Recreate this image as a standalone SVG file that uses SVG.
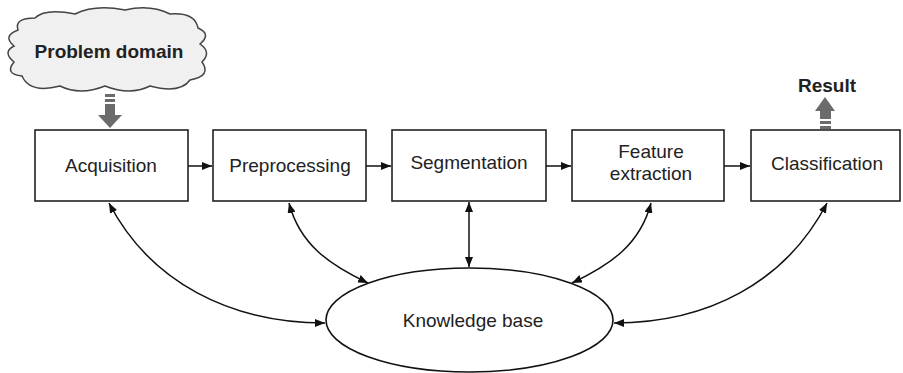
<svg xmlns="http://www.w3.org/2000/svg" width="903" height="373" viewBox="0 0 903 373">
<style>
.box{fill:#fff;stroke:#222;stroke-width:1.6}
.t{font-family:"Liberation Sans",Arial,sans-serif;font-size:19px;fill:#222;text-anchor:middle}
.b{font-weight:bold}
.c{fill:none;stroke:#111;stroke-width:1.5}
.blk{fill:#6b6b6b}
</style>
<defs>
<marker id="ah" viewBox="0 0 10 8" refX="10" refY="4" markerWidth="10" markerHeight="8" markerUnits="userSpaceOnUse" orient="auto-start-reverse">
<path d="M0,0 L10,4 L0,8 Z" fill="#111"/>
</marker>
</defs>
<rect width="903" height="373" fill="#fff"/>
<g id="problem-domain">
<path d="M18,30 Q14,18 35,18 Q45,8 75,14 Q95,4 125,10 Q150,4 170,14 Q195,12 198,28 Q212,34 200,44 Q212,52 202,62 Q212,76 190,80 Q180,94 150,86 Q130,96 105,86 Q80,96 60,86 Q30,94 22,76 Q4,74 14,62 Q2,52 14,46 Q2,36 18,30 Z" fill="#f0f0f0" stroke="#444" stroke-width="1.5"/>
<text class="t b" x="109" y="58">Problem domain</text>
</g>
<g id="input-arrow">
<rect class="blk" x="105" y="94" width="10" height="3"/>
<rect class="blk" x="105" y="99" width="10" height="3"/>
<rect class="blk" x="105" y="104" width="10" height="12"/>
<path class="blk" d="M98,115 L122,115 L110,128 Z"/>
</g>
<g id="result">
<text class="t b" x="827" y="92">Result</text>
<path class="blk" d="M815,111 L835,111 L825,97 Z"/>
<rect class="blk" x="820" y="110" width="11" height="9"/>
<rect class="blk" x="820" y="121" width="11" height="3"/>
<rect class="blk" x="820" y="126" width="11" height="3"/>
</g>
<g id="acquisition">
<rect class="box" x="35" y="130" width="153" height="71"/>
<text class="t" x="111" y="172">Acquisition</text>
</g>
<g id="preprocessing">
<rect class="box" x="213" y="130" width="153" height="71"/>
<text class="t" x="290" y="172">Preprocessing</text>
</g>
<g id="segmentation">
<rect class="box" x="392" y="130" width="154" height="71"/>
<text class="t" x="469" y="169">Segmentation</text>
</g>
<g id="feature-extraction">
<rect class="box" x="572" y="130" width="152" height="71"/>
<text class="t" x="651" y="158">Feature</text>
<text class="t" x="651" y="180">extraction</text>
</g>
<g id="classification">
<rect class="box" x="751" y="130" width="149" height="71"/>
<text class="t" x="827" y="170">Classification</text>
</g>
<g id="knowledge-base">
<ellipse cx="469.5" cy="320" rx="143.5" ry="52" fill="#fff" stroke="#111" stroke-width="1.6"/>
<text class="t" x="473" y="327">Knowledge base</text>
</g>
<g id="connectors">
<path class="c" d="M188,166 L212,166" marker-end="url(#ah)"/>
<path class="c" d="M366,166 L391,166" marker-end="url(#ah)"/>
<path class="c" d="M546,166 L571,166" marker-end="url(#ah)"/>
<path class="c" d="M724,166 L750,166" marker-end="url(#ah)"/>
<path class="c" d="M109,203 C150,282 230,323 325,323" marker-start="url(#ah)" marker-end="url(#ah)"/>
<path class="c" d="M289,203 C300,245 330,265 368,283" marker-start="url(#ah)" marker-end="url(#ah)"/>
<path class="c" d="M469,202 L469,267" marker-start="url(#ah)" marker-end="url(#ah)"/>
<path class="c" d="M651,203 C640,245 610,265 572,283" marker-start="url(#ah)" marker-end="url(#ah)"/>
<path class="c" d="M827,203 C786,282 708,323 614,323" marker-start="url(#ah)" marker-end="url(#ah)"/>
</g>
</svg>
